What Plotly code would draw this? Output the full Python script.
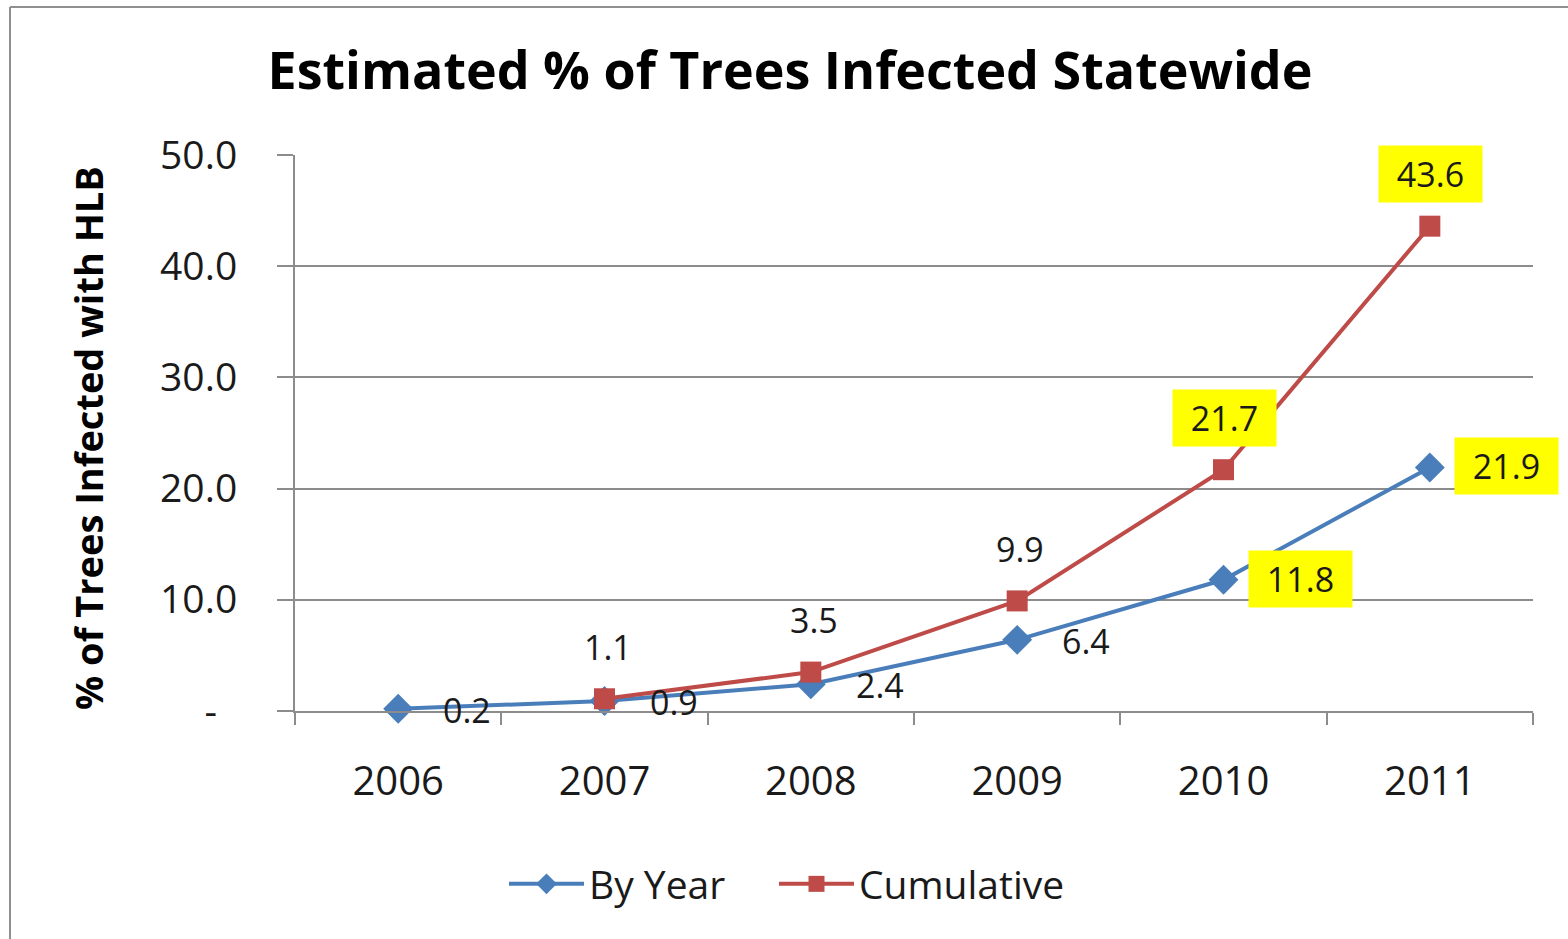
import plotly.graph_objects as go

years = ["2006", "2007", "2008", "2009", "2010", "2011"]
by_year = [0.2, 0.9, 2.4, 6.4, 11.8, 21.9]
cumulative = [None, 1.1, 3.5, 9.9, 21.7, 43.6]
by_year_labels = ["0.2", "0.9", "2.4", "6.4", "11.8", "21.9"]
cumulative_labels = [None, "1.1", "3.5", "9.9", "21.7", "43.6"]
highlight_by_year = [False, False, False, False, True, True]
highlight_cumulative = [False, False, False, False, True, True]
y_ticks = [0, 10, 20, 30, 40, 50]
y_ticktext = ["-\u00a0\u00a0", "10.0", "20.0", "30.0", "40.0", "50.0"]

W, H = 1568, 939
L, R, T, B = 295, 35, 155, 228
FONT = "Open Sans"
BLUE = "#4A7EBB"
RED = "#BE4B48"
GRID = "#8C8C8C"
TXT = "#1a1a1a"


def px_x(p):
    return (p - L) / (W - L - R)


def px_y(p):
    return (H - B - p) / (H - T - B)


fig = go.Figure()
fig.add_trace(go.Scatter(
    x=years, y=by_year, name="By Year", mode="lines+markers",
    line=dict(color=BLUE, width=4),
    marker=dict(symbol="diamond", size=23, color=BLUE),
    cliponaxis=False, legendwidth=180,
))
fig.add_trace(go.Scatter(
    x=years, y=cumulative, name="Cumulative", mode="lines+markers",
    line=dict(color=RED, width=4),
    marker=dict(symbol="square", size=21, color=RED),
    cliponaxis=False,
))

annotations = []
for i, (v, t, hl) in enumerate(zip(by_year, by_year_labels, highlight_by_year)):
    a = dict(x=i, y=v, xref="x", yref="y", text=t, showarrow=False,
             font=dict(family=FONT, size=34, color=TXT),
             xanchor="center", yanchor="middle")
    if hl:
        a.update(xshift=77, yshift=1, bgcolor="#FFFF00", width=91, height=44,
                 borderpad=6, borderwidth=1, bordercolor="rgba(0,0,0,0)")
    else:
        a.update(xshift=69, yshift=-1)
    annotations.append(a)
for i, (v, t, hl) in enumerate(zip(cumulative, cumulative_labels, highlight_cumulative)):
    if v is None:
        continue
    a = dict(x=i, y=v, xref="x", yref="y", text=t, showarrow=False,
             font=dict(family=FONT, size=34, color=TXT),
             xanchor="center", yanchor="middle", yshift=52)
    if hl:
        a.update(xshift=1, bgcolor="#FFFF00", width=91, height=44,
                 borderpad=6, borderwidth=1, bordercolor="rgba(0,0,0,0)")
    else:
        a.update(xshift=3)
    annotations.append(a)

annotations.append(dict(
    text="<b>% of Trees Infected with HLB</b>", textangle=-90,
    xref="paper", yref="paper", x=px_x(88), y=px_y(438),
    xanchor="center", yanchor="middle", showarrow=False,
    font=dict(family=FONT, size=38, color="#000000"),
))

shapes = [
    dict(type="line", xref="paper", yref="paper",
         x0=px_x(10), x1=px_x(10), y0=px_y(7), y1=px_y(960),
         line=dict(color="#8F8F8F", width=2)),
    dict(type="line", xref="paper", yref="paper",
         x0=px_x(10), x1=px_x(1600), y0=px_y(7), y1=px_y(7),
         line=dict(color="#8F8F8F", width=2)),
]

fig.update_layout(
    width=W, height=H,
    margin=dict(l=L, r=R, t=T, b=B, autoexpand=False),
    paper_bgcolor="white", plot_bgcolor="white",
    font=dict(family=FONT, color=TXT),
    title=dict(text="<b>Estimated % of Trees Infected Statewide</b>",
               x=790 / W, xref="container", xanchor="center",
               y=1 - 71 / H, yref="container", yanchor="middle",
               font=dict(family=FONT, size=52, color="#000000")),
    showlegend=True,
    legend=dict(orientation="h", xref="container", yref="container",
                x=787 / W, xanchor="center", y=1 - 884 / H, yanchor="middle",
                font=dict(family=FONT, size=39, color=TXT),
                itemwidth=75, bgcolor="rgba(0,0,0,0)"),
    annotations=annotations,
    shapes=shapes,
)
fig.update_xaxes(
    type="category", range=[-0.5, 5.5],
    showline=True, linecolor=GRID, linewidth=2,
    ticks="outside", tickson="boundaries", ticklen=12, tickwidth=2, tickcolor=GRID,
    showgrid=False, zeroline=False,
    tickfont=dict(family=FONT, size=40, color=TXT),
    ticklabelstandoff=34,
)
fig.update_yaxes(
    range=[0, 50], tickvals=y_ticks, ticktext=y_ticktext,
    showline=True, linecolor=GRID, linewidth=2,
    ticks="outside", ticklen=16, tickwidth=2, tickcolor=GRID,
    showgrid=True, gridcolor=GRID, gridwidth=2, zeroline=False,
    tickfont=dict(family=FONT, size=39, color=TXT),
    ticklabelstandoff=32,
)

fig.write_html("out.html")
